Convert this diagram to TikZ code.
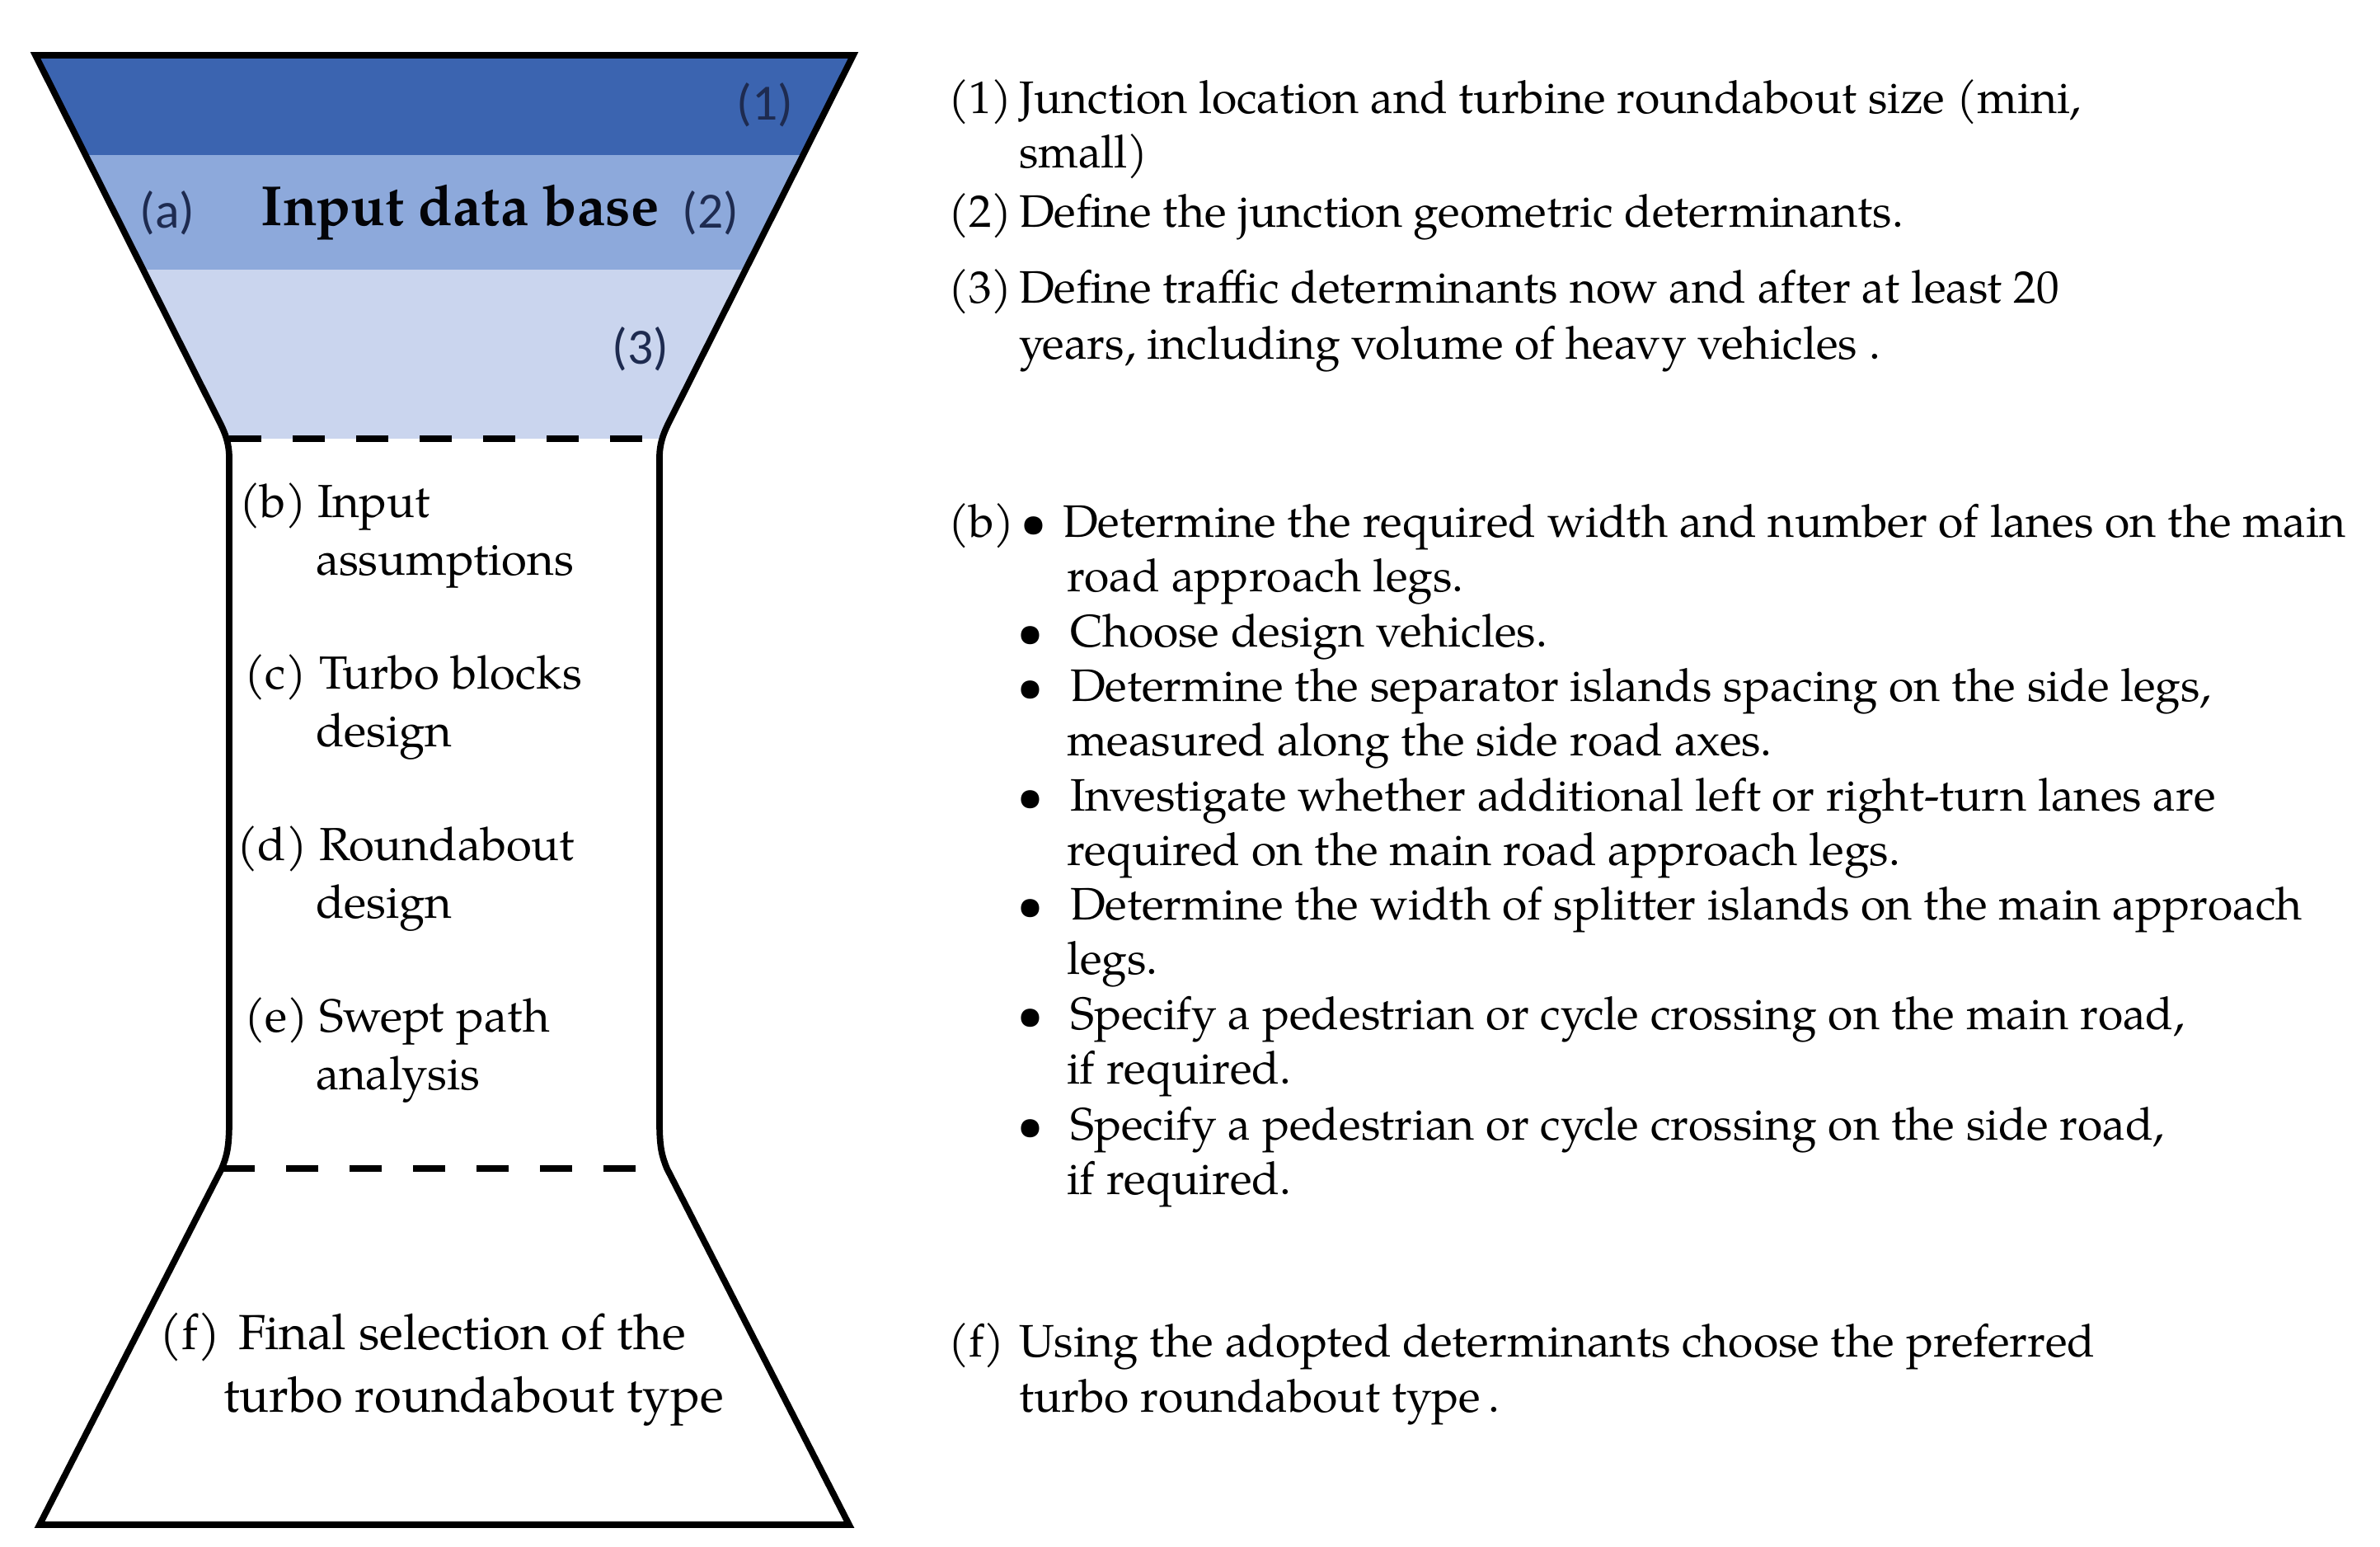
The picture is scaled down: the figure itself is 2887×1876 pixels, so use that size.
\documentclass[tikz,border=0pt]{standalone}
\usepackage{fontspec}
\setmainfont{TeX Gyre Pagella}
\newfontfamily\lblfont{Carlito}
\definecolor{bandA}{HTML}{3B64B0}
\definecolor{bandB}{HTML}{8DA9DB}
\definecolor{bandC}{HTML}{CAD5EE}
\definecolor{navy}{HTML}{1E2B50}
\tikzset{
  outline/.style={line width=2.2pt, line join=miter},
  sepline/.style={line width=2.2pt, dash pattern=on 0.39cm off 0.38cm},
  txtR/.style={anchor=base west, inner sep=0pt, outer sep=0pt, font=\fontsize{15.7}{18}\selectfont},
  txtL/.style={anchor=base west, inner sep=0pt, outer sep=0pt, font=\fontsize{16}{19}\selectfont},
  txtF/.style={anchor=base west, inner sep=0pt, outer sep=0pt, font=\fontsize{17}{20}\selectfont},
  lbl/.style={inner sep=0pt, outer sep=0pt, font=\lblfont\fontsize{17.5}{20}\selectfont, text=navy},
  bul/.style={anchor=base, inner sep=0pt, outer sep=0pt, font=\fontsize{15.7}{18}\selectfont},
}
\begin{document}
\begin{tikzpicture}[x=0.01cm,y=-0.01cm]
\useasboundingbox (0,0) rectangle (2887,1876);
\fill[white] (0,0) rectangle (2887,1876);
% coloured bands
\begin{scope}
\clip (43,67) -- (1035,67) -- (816,503) .. controls (808,519) and (800,533) .. (800,555) -- (800,1360) .. controls (800,1392) and (803,1402) .. (809,1417) -- (1030,1849) -- (48,1849) -- (269,1417) .. controls (275,1402) and (278,1392) .. (278,1360) -- (278,555) .. controls (278,533) and (270,519) .. (262,503) -- cycle;
\fill[bandA] (0,0) rectangle (1100,188);
\fill[bandB] (0,188) rectangle (1100,327);
\fill[bandC] (0,327) rectangle (1100,532);
\end{scope}
% outline
\draw[outline] (43,67) -- (1035,67) -- (816,503) .. controls (808,519) and (800,533) .. (800,555) -- (800,1360) .. controls (800,1392) and (803,1402) .. (809,1417) -- (1030,1849) -- (48,1849) -- (269,1417) .. controls (275,1402) and (278,1392) .. (278,1360) -- (278,555) .. controls (278,533) and (270,519) .. (262,503) -- cycle;
% separators
\coordinate (s1l) at (278,532); \coordinate (s1r) at (800,532);
\coordinate (s2l) at (270,1417); \coordinate (s2r) at (809,1417);
\draw[sepline] (s1l) -- (s1r);
\draw[sepline] (s2l) -- (s2r);
% band labels
\node[lbl] (n1) at (928,127) {(1)};
\node[lbl] (na) at (203,258) {(a)};
\node[inner sep=0pt, font=\bfseries\fontsize{19.5}{22}\selectfont, text=black!90!navy] (idb) at (558,258) {Input data base};
\node[lbl] (n2) at (862,258) {(2)};
\node[lbl] (n3) at (777,423) {(3)};
% left column
\node[txtL] (lb1) at (290,627) {(b)};
\node[txtL] (lb2) at (385,627) {Input};
\node[txtL] (lb3) at (383,697) {assumptions};
\node[txtL] (lc1) at (296,835) {(c)};
\node[txtL] (lc2) at (387,835) {Turbo blocks};
\node[txtL] (lc3) at (383,905) {design};
\node[txtL] (ld1) at (287,1043) {(d)};
\node[txtL] (ld2) at (387,1043) {Roundabout};
\node[txtL] (ld3) at (383,1113) {design};
\node[txtL] (le1) at (296,1251) {(e)};
\node[txtL] (le2) at (387,1251) {Swept path};
\node[txtL] (le3) at (383,1321) {analysis};
\node[txtF] (lf1) at (193,1636) {(f)};
\node[txtF] (lf2) at (289,1636) {Final selection of the};
\node[txtF] (lf3) at (271,1712) {turbo roundabout type};
% right column
\node[txtR] (r1a) at (1150,138) {(1)};
\node[txtR] (r1b) at (1236,138) {Junction location and turbine roundabout size (mini,};
\node[txtR] (r1c) at (1236,204) {small)};
\node[txtR] (r2a) at (1150,276) {(2)};
\node[txtR] (r2b) at (1236,276) {Define the junction geometric determinants.};
\node[txtR] (r3a) at (1150,368) {(3)};
\node[txtR] (r3b) at (1236,368) {Define traffic determinants now and after at least 20};
\node[txtR] (r3c) at (1236,436) {years, including volume of heavy vehicles .};
\node[txtR] (rba) at (1150,651) {(b)};
\node[bul] (bu1) at (1254,651) {\textbullet};
\node[txtR] (rb1) at (1289,651) {Determine the required width and number of lanes on the main};
\node[txtR] (rb1c) at (1294,717) {road approach legs.};
\node[bul] (bu2) at (1250,784) {\textbullet};
\node[txtR] (rb2) at (1298,784) {Choose design vehicles.};
\node[bul] (bu3) at (1250,850) {\textbullet};
\node[txtR] (rb3) at (1298,850) {Determine the separator islands spacing on the side legs,};
\node[txtR] (rb3c) at (1294,916) {measured along the side road axes.};
\node[bul] (bu4) at (1250,983) {\textbullet};
\node[txtR] (rb4) at (1298,983) {Investigate whether additional left or right-turn lanes are};
\node[txtR] (rb4c) at (1294,1049) {required on the main road approach legs.};
\node[bul] (bu5) at (1250,1115) {\textbullet};
\node[txtR] (rb5) at (1298,1115) {Determine the width of splitter islands on the main approach};
\node[txtR] (rb5c) at (1294,1181) {legs.};
\node[bul] (bu6) at (1250,1248) {\textbullet};
\node[txtR] (rb6) at (1298,1248) {Specify a pedestrian or cycle crossing on the main road,};
\node[txtR] (rb6c) at (1294,1314) {if required.};
\node[bul] (bu7) at (1250,1382) {\textbullet};
\node[txtR] (rb7) at (1298,1382) {Specify a pedestrian or cycle crossing on the side road,};
\node[txtR] (rb7c) at (1294,1448) {if required.};
\node[txtR] (rfa) at (1150,1645) {(f)};
\node[txtR] (rfb) at (1236,1645) {Using the adopted determinants choose the preferred};
\node[txtR] (rfc) at (1236,1712) {turbo roundabout type\,.};
\end{tikzpicture}
\end{document}
